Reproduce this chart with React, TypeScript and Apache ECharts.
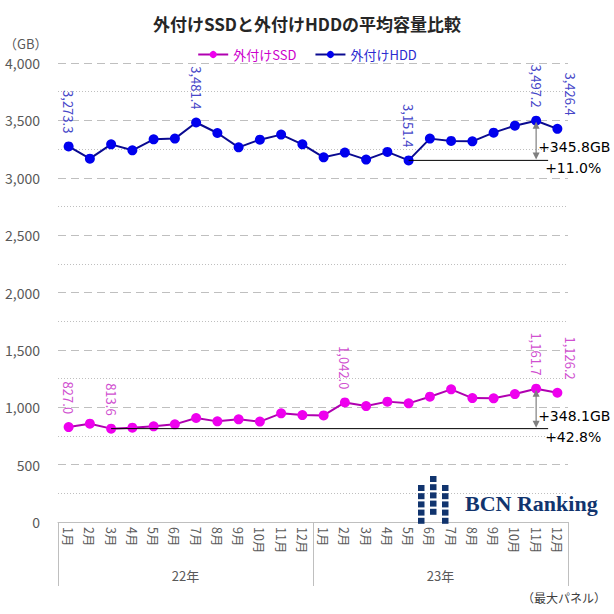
import React, { useEffect, useRef } from "react";
import * as echarts from "echarts";

const months = ["1月", "2月", "3月", "4月", "5月", "6月", "7月", "8月", "9月", "10月", "11月", "12月",
  "1月", "2月", "3月", "4月", "5月", "6月", "7月", "8月", "9月", "10月", "11月", "12月"];
const years = ["22年", "23年"];
const ssdValues = [827.0, 857, 813.6, 822, 834, 851, 906, 877, 895, 875, 947, 932,
  929, 1042.0, 1010, 1049, 1034, 1092, 1156, 1080, 1078, 1115, 1161.7, 1126.2];
const hddValues = [3273.3, 3166, 3291, 3239, 3335, 3341, 3481.4, 3390, 3265, 3332, 3376, 3291,
  3178, 3219, 3158, 3225, 3151.4, 3341, 3321, 3317, 3393, 3454, 3497.2, 3426.4];
const ssdLabelIdx = [0, 2, 13, 22, 23];
const hddLabelIdx = [0, 6, 16, 22, 23];
const ssdBaseIdx = 2;
const hddBaseIdx = 16;
const peakIdx = 22;
const yTicks = { min: 0, max: 4000, interval: 500 };

const JP = "'Noto Sans CJK JP', 'Noto Sans', sans-serif";
const NUM = "'DejaVu Sans', sans-serif";

const fmt = (v: number) =>
  v.toLocaleString("en-US", { minimumFractionDigits: 1, maximumFractionDigits: 1 });

function buildData(values: number[], idx: number[]) {
  return values.map((v, i) => {
    if (!idx.includes(i)) return v;
    const last = i === values.length - 1;
    return { value: v, label: { show: true, offset: last ? [0, -13] : [0, 0] } };
  });
}

export default function App() {
  const ref = useRef<HTMLDivElement>(null);
  useEffect(() => {
    if (!ref.current) return;
    const chart = echarts.init(ref.current, null, { renderer: "svg" });
    const labelBase = {
      show: false,
      position: "top",
      rotate: -90,
      align: "right",
      verticalAlign: "middle",
      distance: 8,
      fontSize: 13,
      fontFamily: JP,
      formatter: (p: any) => fmt(p.value),
    };
    const option: any = {
      animation: false,
      backgroundColor: "#ffffff",
      title: {
        text: "外付けSSDと外付けHDDの平均容量比較",
        left: "center",
        top: 10,
        textStyle: { fontSize: 17, fontWeight: "bold", color: "#262626", fontFamily: JP },
      },
      legend: {
        top: 43,
        left: "center",
        itemWidth: 30,
        itemHeight: 9,
        itemGap: 18,
        textStyle: { fontSize: 13, fontFamily: JP },
        data: [
          { name: "外付けSSD", textStyle: { color: "#cc00cc" } },
          { name: "外付けHDD", textStyle: { color: "#2a2ad0" } },
        ],
      },
      grid: { left: 58, right: 46, top: 63, bottom: 92, containLabel: false },
      xAxis: [
        {
          type: "category",
          data: months,
          boundaryGap: true,
          axisLine: { show: true, lineStyle: { color: "#bfbfbf", width: 1 } },
          axisTick: { show: false },
          axisLabel: {
            interval: 0,
            rotate: -90,
            margin: 5,
            fontSize: 12.5,
            color: "#595959",
            fontFamily: JP,
          },
        },
        {
          type: "category",
          data: years,
          position: "bottom",
          boundaryGap: true,
          axisLine: { show: false },
          axisTick: { show: true, length: 64, interval: 0, lineStyle: { color: "#bfbfbf", width: 1 } },
          axisLabel: { margin: 47, fontSize: 13, color: "#595959", fontFamily: JP },
        },
      ],
      yAxis: {
        type: "value",
        min: yTicks.min,
        max: yTicks.max,
        interval: yTicks.interval,
        axisLine: { show: false },
        axisTick: { show: false },
        axisLabel: {
          margin: 18,
          fontSize: 14,
          color: "#595959",
          fontFamily: JP,
          formatter: (v: number) => v.toLocaleString("en-US"),
        },
        splitLine: { show: true, lineStyle: { color: "#bfbfbf", type: [8, 5], width: 1 } },
        minorTick: { show: false, splitNumber: 2 },
        minorSplitLine: { show: true, lineStyle: { color: "#bfbfbf", type: [1, 2], width: 1 } },
      },
      series: [
        {
          name: "外付けSSD",
          type: "line",
          data: buildData(ssdValues, ssdLabelIdx),
          symbol: "circle",
          symbolSize: 10,
          itemStyle: { color: "#ee00ee" },
          lineStyle: { color: "#b000b0", width: 2 },
          label: { ...labelBase, color: "#d050d0" },
          z: 3,
        },
        {
          name: "外付けHDD",
          type: "line",
          data: buildData(hddValues, hddLabelIdx),
          symbol: "circle",
          symbolSize: 10,
          itemStyle: { color: "#0000ee" },
          lineStyle: { color: "#0a0a90", width: 2 },
          label: { ...labelBase, color: "#4646c8" },
          z: 3,
        },
      ],
    };
    chart.setOption(option);

    const px = (i: number, v: number) =>
      chart.convertToPixel({ xAxisIndex: 0, yAxisIndex: 0 }, [i, v]) as number[];

    const annot = (values: number[], baseIdx: number, diffText: string, pctText: string) => {
      const b = px(baseIdx, values[baseIdx]);
      const t = px(peakIdx, values[peakIdx]);
      const x = t[0];
      const gray = "#7f7f7f";
      return [
        { type: "line", shape: { x1: b[0], y1: b[1], x2: x + 12, y2: b[1] }, style: { stroke: "#000", lineWidth: 1 }, z: 10 },
        { type: "line", shape: { x1: x, y1: t[1] + 5, x2: x, y2: b[1] - 5 }, style: { stroke: gray, lineWidth: 1.2 }, z: 11 },
        { type: "polygon", shape: { points: [[x, t[1] + 1], [x - 3.5, t[1] + 8], [x + 3.5, t[1] + 8]] }, style: { fill: gray }, z: 11 },
        { type: "polygon", shape: { points: [[x, b[1] - 1], [x - 3.5, b[1] - 8], [x + 3.5, b[1] - 8]] }, style: { fill: gray }, z: 11 },
        { type: "text", x: x + 2, y: b[1] - 13, style: { text: diffText, fill: "#000", fontSize: 14, fontFamily: NUM, verticalAlign: "middle", align: "left" }, z: 12 },
        { type: "text", x: x + 9, y: b[1] + 8, style: { text: pctText, fill: "#000", fontSize: 14, fontFamily: NUM, verticalAlign: "middle", align: "left" }, z: 12 },
      ];
    };

    const diff = (vals: number[], bi: number) => vals[peakIdx] - vals[bi];
    const pct = (vals: number[], bi: number) => (diff(vals, bi) / vals[bi]) * 100;

    const logo: any[] = [];
    const cols = [
      { x: 418, top: 485, rows: 5 },
      { x: 430, top: 476, rows: 5 },
      { x: 442, top: 485, rows: 5 },
    ];
    cols.forEach((c) => {
      for (let r = 0; r < c.rows; r++) {
        logo.push({ type: "rect", shape: { x: c.x, y: c.top + r * 8.2, width: 6.5, height: 6 }, style: { fill: "#11346e" }, z: 20 });
      }
    });

    chart.setOption({
      graphic: [
        ...annot(hddValues, hddBaseIdx, `+${diff(hddValues, hddBaseIdx).toFixed(1)}GB`, `+${pct(hddValues, hddBaseIdx).toFixed(1)}%`),
        ...annot(ssdValues, ssdBaseIdx, `+${diff(ssdValues, ssdBaseIdx).toFixed(1)}GB`, `+${pct(ssdValues, ssdBaseIdx).toFixed(1)}%`),
        ...logo,
        { type: "text", x: 465, y: 503, style: { text: "BCN Ranking", fill: "#11346e", fontSize: 22, fontWeight: "bold", fontFamily: "'Liberation Serif', 'DejaVu Serif', serif", verticalAlign: "middle" }, z: 20 },
        { type: "text", x: 4, y: 43, style: { text: "（GB）", fill: "#595959", fontSize: 13, fontFamily: JP, verticalAlign: "middle" } },
        { type: "text", x: 606, y: 597, style: { text: "（最大パネル）", fill: "#404040", fontSize: 12, fontFamily: JP, align: "right", verticalAlign: "middle" } },
      ],
    });

    return () => chart.dispose();
  }, []);
  return <div ref={ref} style={{ position: "fixed", left: 0, top: 0, width: 614, height: 614 }} />;
}
